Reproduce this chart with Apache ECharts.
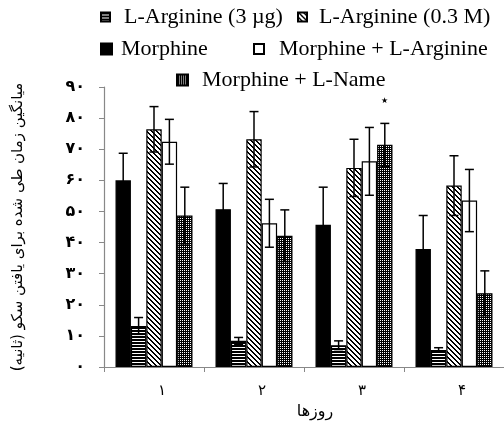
<!DOCTYPE html>
<html><head><meta charset="utf-8">
<script src="https://cdn.jsdelivr.net/npm/echarts@6/dist/echarts.min.js"></script>
<style>html,body{margin:0;padding:0;background:#fff}#c{width:504px;height:429px}</style>
</head><body><div id="c"></div>
<script>
// ---- data ----
const categories = ['۱', '۲', '۳', '۴'];
const yTickLabels = ['۰','۱۰','۲۰','۳۰','۴۰','۵۰','۶۰','۷۰','۸۰','۹۰'];
const seriesNames = ['Morphine', 'L-Arginine (3 µg)', 'L-Arginine (0.3 M)', 'Morphine + L-Arginine', 'Morphine + L-Name'];
const morphine      = [60.0, 50.7, 45.7, 37.9];
const morphineErr   = [8.7, 8.3, 12.1, 10.8];
const lArg3         = [13.2, 8.4, 7.0, 5.5];
const lArg3Err      = [2.7, 1.1, 1.4, 0.7];
const lArg03        = [76.4, 73.2, 64.0, 58.3];
const lArg03Err     = [7.3, 8.9, 9.2, 9.6];
const morphLArg     = [72.4, 46.2, 66.1, 53.5];
const morphLArgErr  = [7.2, 7.7, 10.9, 10.0];
const morphLName    = [48.7, 42.2, 71.4, 23.7];
const morphLNameErr = [9.1, 8.3, 6.9, 7.2];
const lNameMarks    = ['', '', '*', ''];
const yTitle = 'میانگین زمان طی شده برای یافتن سکو (ثانیه)';
const xTitle = 'روزها';

// ---- patterns ----
function makePattern(w, h, fn) {
  const c = document.createElement('canvas'); c.width = w; c.height = h;
  const ctx = c.getContext('2d'); const img = ctx.createImageData(w, h);
  for (let y = 0; y < h; y++) for (let x = 0; x < w; x++) {
    const v = fn(x, y) ? 0 : 255; const i = (y * w + x) * 4;
    img.data[i] = v; img.data[i+1] = v; img.data[i+2] = v; img.data[i+3] = 255;
  }
  ctx.putImageData(img, 0, 0); return c;
}
const hStripe = makePattern(4, 3, (x, y) => y !== 2);
const diag = makePattern(5, 5, (x, y) => (((x - y) % 5) + 5) % 5 < 2);
const dots = makePattern(2, 2, (x, y) => !(x === 0 && y === 0));

const fills = ['#000', {image: hStripe, repeat: 'repeat'}, {image: diag, repeat: 'repeat'}, '#fff', {image: dots, repeat: 'repeat'}];
const values = [morphine, lArg3, lArg03, morphLArg, morphLName];
const errs = [morphineErr, lArg3Err, lArg03Err, morphLArgErr, morphLNameErr];
const catGap = 0.23;

const series = [];
values.forEach((vals, s) => {
  series.push({
    name: seriesNames[s], type: 'bar', data: vals, barGap: '0%', barCategoryGap: (catGap*100) + '%',
    itemStyle: {color: fills[s], borderColor: '#000', borderWidth: 1.2},
    emphasis: {disabled: true}, z: 2
  });
});
values.forEach((vals, s) => {
  series.push({
    type: 'custom', z: 5, silent: true,
    data: vals.map((v, i) => [i, v, errs[s][i]]),
    renderItem: function (params, api) {
      const ci = api.value(0), v = api.value(1), e = api.value(2);
      const mark = s === 4 ? lNameMarks[ci] : '';
      const band = api.size([1, 0])[0];
      const bw = band * (1 - catGap) / 5;
      const cx = api.coord([ci, v])[0] + (s - 2) * bw;
      const yt = api.coord([ci, v + e])[1];
      const yb = api.coord([ci, v - e])[1];
      const st = {stroke: '#000', lineWidth: 1.5};
      const ch = [
        {type: 'line', shape: {x1: cx, y1: yt, x2: cx, y2: yb}, style: st},
        {type: 'line', shape: {x1: cx - 4.5, y1: yt, x2: cx + 4.5, y2: yt}, style: st},
        {type: 'line', shape: {x1: cx - 4.5, y1: yb, x2: cx + 4.5, y2: yb}, style: st}
      ];
      if (mark) ch.push({type: 'text', style: {text: '★', x: cx, y: yt - 23, fontSize: 8, fill: '#000', align: 'center', verticalAlign: 'middle'}});
      return {type: 'group', children: ch};
    }
  });
});

const legendFont = {fontFamily: 'Liberation Serif', fontSize: 22, color: '#000'};
function lg(name, left, cy, gap, size) {
  return {data: [name], left: left, top: cy - 12, padding: 0, itemWidth: size, itemHeight: size, icon: 'rect',
    selectedMode: false, textStyle: Object.assign({padding: [0, 0, 0, gap]}, legendFont)};
}

const chart = echarts.init(document.getElementById('c'));
chart.setOption({
  animation: false,
  backgroundColor: '#fff',
  legend: [
    lg(seriesNames[1], 100, 18, 9, 9),
    lg(seriesNames[2], 297, 18, 7, 9),
    lg(seriesNames[0], 100, 50, 4, 11),
    lg(seriesNames[3], 253, 50, 10, 10),
    lg(seriesNames[4], 176, 81, 9, 11)
  ],
  grid: {left: 104, right: 0, top: 87, bottom: 62, containLabel: false},
  xAxis: {
    type: 'category', data: categories,
    axisLine: {lineStyle: {color: '#888', width: 1.2}},
    axisTick: {show: true, length: 5, lineStyle: {color: '#888'}},
    axisLabel: {fontFamily: 'DejaVu Sans', fontSize: 15, color: '#000', margin: 17, padding: [0, 0, 0, 16]},
    name: xTitle, nameLocation: 'middle', nameGap: 35,
    nameTextStyle: {fontFamily: 'DejaVu Sans', fontSize: 16, color: '#000', padding: [0, 0, 0, 22]}
  },
  yAxis: {
    type: 'value', min: 0, max: 90, interval: 10,
    axisLine: {show: true, lineStyle: {color: '#888', width: 1.2}},
    axisTick: {show: true, length: 5, lineStyle: {color: '#888'}},
    splitLine: {show: false},
    axisLabel: {fontFamily: 'DejaVu Sans', fontSize: 16, fontWeight: 'bold', color: '#000', margin: 19,
      formatter: v => yTickLabels[Math.round(v / 10)]},
    name: yTitle, nameLocation: 'middle', nameGap: 78, nameRotate: 90,
    nameTextStyle: {fontFamily: 'DejaVu Sans', fontSize: 15, color: '#000'}
  },
  series: series
});
</script></body></html>
